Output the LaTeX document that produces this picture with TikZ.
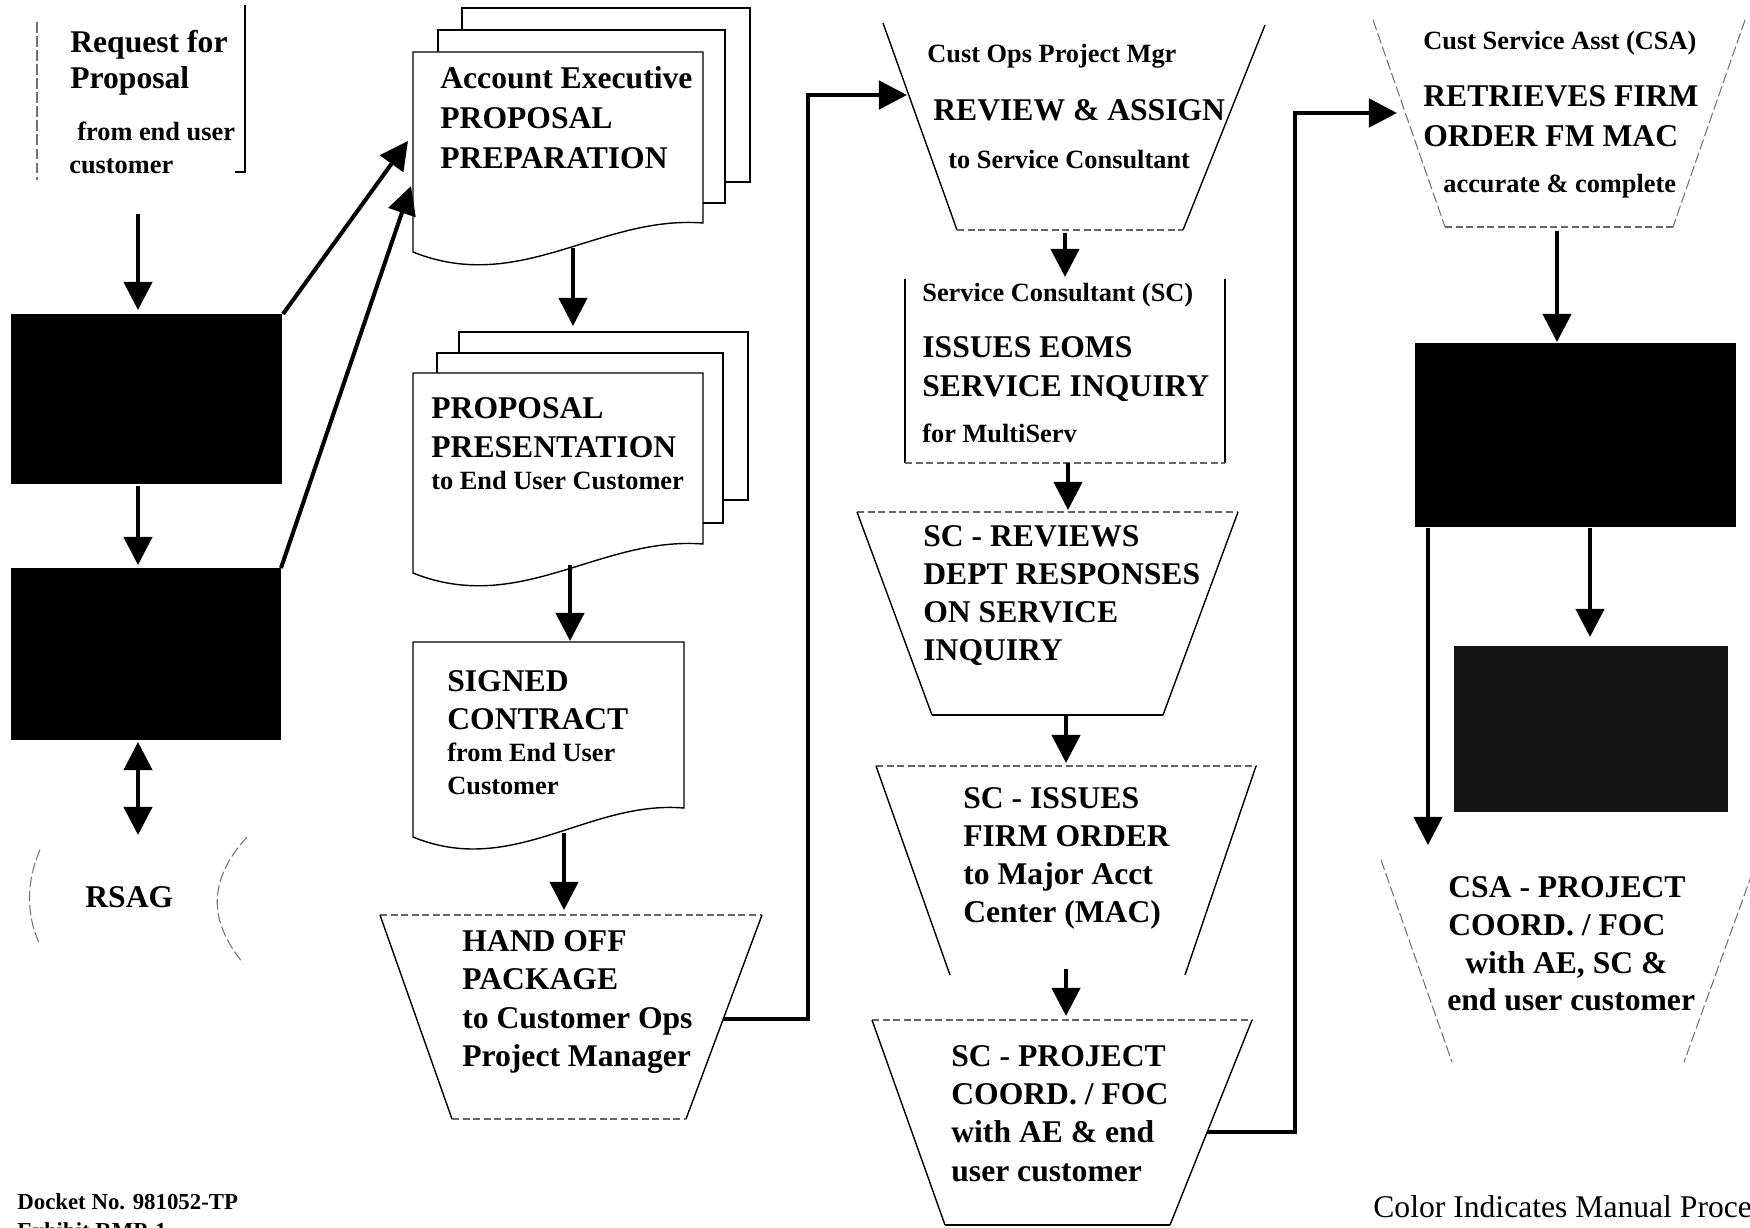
\documentclass[tikz,border=0pt]{standalone}
\usepackage{fontspec}
\setmainfont{Liberation Serif}
\usetikzlibrary{arrows.meta,fit}
\begin{document}
\begin{tikzpicture}[x=0.02cm,y=-0.02cm,
  bt/.style={font=\fontsize{18}{20}\selectfont\bfseries, anchor=base west, inner sep=0pt},
  st/.style={font=\fontsize{15}{17}\selectfont\bfseries, anchor=base west, inner sep=0pt},
  arr/.style={line width=2.3pt, -{Triangle[length=16pt,width=16pt]}},
  arrboth/.style={line width=2.3pt, {Triangle[length=16pt,width=16pt]}-{Triangle[length=16pt,width=16pt]}},
  elbow/.style={line width=2.6pt, line join=miter, -{Triangle[length=16pt,width=16pt]}},
  outl/.style={line width=0.8pt, black},
  faint/.style={line width=0.6pt, black!55, dash pattern=on 6pt off 2pt},
  dotl/.style={line width=0.6pt, black!60, dash pattern=on 4pt off 2pt},
  blk/.style={fill=black, inner sep=0pt, draw=none},
  page/.style={line width=0.8pt, black, fill=white}]
\useasboundingbox (0,0) rectangle (1750,1227);
\fill[white] (0,0) rectangle (1750,1227);
\begin{scope}
\clip (0,0) rectangle (1750,1227);

% ---------- Request for Proposal ----------
\draw[faint] (37,22) -- (37,180);
\draw[outl] (245,5) -- (245,172) -- (235,172);
\node[bt] (rq1) at (70,52) {Request for};
\node[bt] (rq2) at (70,88) {Proposal};
\node[st] (rq3) at (77,140) {from end user};
\node[st] (rq4) at (69,173) {customer};
\coordinate (rq-out) at (138,214);

% ---------- black boxes left ----------
\node[blk, fit={(11,314) (282,484)}] (b1) {};
\node[blk, fit={(11,568) (281,740)}] (b2) {};
\coordinate (b1-in) at (138,310);
\coordinate (b1-out) at (138,486);
\coordinate (b1-ne) at (283,314);
\coordinate (b2-in) at (138,565);
\coordinate (b2-out) at (138,742);
\coordinate (b2-ne) at (281,568);

% ---------- RSAG ----------
\draw[faint] (40,850) .. controls (26,882) and (26,915) .. (40,945);
\draw[faint] (247,837) .. controls (208,880) and (208,920) .. (243,963);
\node[bt] (rsag) at (85,907) {RSAG};
\coordinate (rsag-in) at (138,835);

% ---------- Account Executive stacked document ----------
\draw[page] (462,8) rectangle (750,182);
\draw[page] (438,30) rectangle (725,203);
\draw[page] (413,52) -- (703,52) -- (703,223) .. controls (600,215) and (520,295) .. (413,252) -- cycle;
\node[bt] (ae1) at (440,88) {Account Executive};
\node[bt] (ae2) at (440,128) {PROPOSAL};
\node[bt] (ae3) at (440,168) {PREPARATION};
\coordinate (ae-in1) at (408,141);
\coordinate (ae-in2) at (411,186);
\coordinate (ae-out) at (573,248);

% ---------- Proposal Presentation stacked document ----------
\draw[page] (459,332) rectangle (748,500);
\draw[page] (437,353) rectangle (723,523);
\draw[page] (413,373) -- (703,373) -- (703,544) .. controls (600,536) and (520,616) .. (413,573) -- cycle;
\node[bt] (pp1) at (431,418) {PROPOSAL};
\node[bt] (pp2) at (431,457) {PRESENTATION};
\node[st] (pp3) at (431,489) {to End User Customer};
\coordinate (pp-in) at (573,326);
\coordinate (pp-out) at (570,565);

% ---------- Signed Contract document ----------
\draw[page] (413,642) -- (684,642) -- (684,808) .. controls (588,800) and (513,878) .. (413,837) -- cycle;
\node[bt] (sc1) at (447,691) {SIGNED};
\node[bt] (sc2) at (447,729) {CONTRACT};
\node[st] (sc3) at (447,761) {from End User};
\node[st] (sc4) at (447,794) {Customer};
\coordinate (sc-in) at (570,641);
\coordinate (sc-out) at (564,833);

% ---------- Hand Off Package ----------
\draw[dotl] (380,915) -- (762,915);
\draw[outl] (380,915) -- (452,1119);
\draw[outl] (762,915) -- (686,1119);
\draw[dotl] (452,1119) -- (686,1119);
\node[bt] (ho1) at (462,951) {HAND OFF};
\node[bt] (ho2) at (462,989) {PACKAGE};
\node[bt] (ho3) at (462,1028) {to Customer Ops};
\node[bt] (ho4) at (462,1066) {Project Manager};
\coordinate (ho-in) at (564,910);
\coordinate (ho-out) at (723,1019);

% ---------- Review & Assign ----------
\draw[outl] (883,23) -- (957,230);
\draw[outl] (1265,25) -- (1183,230);
\draw[dotl] (957,230) -- (1183,230);
\node[st] (ra1) at (927,62) {Cust Ops Project Mgr};
\node[bt] (ra2) at (933,120) {REVIEW \& ASSIGN};
\node[st] (ra3) at (948,168) {to Service Consultant};
\coordinate (ra-in) at (907,95);
\coordinate (ra-out) at (1065,233);

% ---------- Service Consultant box ----------
\draw[outl] (905,279) -- (905,463);
\draw[outl] (1225,279) -- (1225,463);
\draw[dotl] (905,463) -- (1225,463);
\node[st] (sb1) at (922,301) {Service Consultant (SC)};
\node[bt] (sb2) at (922,357) {ISSUES EOMS};
\node[bt] (sb3) at (922,396) {SERVICE INQUIRY};
\node[st] (sb4) at (922,442) {for MultiServ};
\coordinate (sb-in) at (1065,277);
\coordinate (sb-out) at (1068,463);

% ---------- SC - Reviews ----------
\draw[dotl] (857,512) -- (1238,512);
\draw[outl] (857,512) -- (932,715);
\draw[outl] (1238,512) -- (1163,715);
\draw[outl] (932,715) -- (1163,715);
\node[bt] (rv1) at (923,546) {SC - REVIEWS};
\node[bt] (rv2) at (923,584) {DEPT RESPONSES};
\node[bt] (rv3) at (923,622) {ON SERVICE};
\node[bt] (rv4) at (923,660) {INQUIRY};
\coordinate (rv-in) at (1068,510);
\coordinate (rv-out) at (1066,715);

% ---------- SC - Issues Firm Order ----------
\draw[dotl] (876,766) -- (1256,766);
\draw[outl] (876,766) -- (950,975);
\draw[outl] (1256,766) -- (1185,975);
\node[bt] (is1) at (963,808) {SC - ISSUES};
\node[bt] (is2) at (963,846) {FIRM ORDER};
\node[bt] (is3) at (963,884) {to Major Acct};
\node[bt] (is4) at (963,922) {Center (MAC)};
\coordinate (is-in) at (1066,763);
\coordinate (is-out) at (1066,969);

% ---------- SC - Project Coord ----------
\draw[dotl] (872,1020) -- (1252,1020);
\draw[outl] (872,1020) -- (945,1225);
\draw[outl] (1252,1020) -- (1170,1225);
\draw[outl] (945,1225) -- (1170,1225);
\node[bt] (pj1) at (951,1066) {SC - PROJECT};
\node[bt] (pj2) at (951,1104) {COORD. / FOC};
\node[bt] (pj3) at (951,1142) {with AE \& end};
\node[bt] (pj4) at (951,1181) {user customer};
\coordinate (pj-in) at (1066,1016);
\coordinate (pj-out) at (1207,1132);

% ---------- Retrieves Firm Order ----------
\draw[faint] (1373,20) -- (1445,227);
\draw[faint] (1745,20) -- (1673,227);
\draw[dotl] (1445,227) -- (1673,227);
\node[st] (rf1) at (1423,49) {Cust Service Asst (CSA)};
\node[bt] (rf2) at (1423,106) {RETRIEVES FIRM};
\node[bt] (rf3) at (1423,146) {ORDER FM MAC};
\node[st] (rf4) at (1443,192) {accurate \& complete};
\coordinate (rf-in) at (1397,113);
\coordinate (rf-out) at (1557,231);

% ---------- right black boxes ----------
\node[blk, fit={(1415,343) (1736,527)}] (b3) {};
\node[fill=black!92, inner sep=0pt, fit={(1454,646) (1728,812)}] (b4) {};
\coordinate (b3-in) at (1557,342);
\coordinate (b3-out1) at (1590,528);
\coordinate (b3-out2) at (1428,528);
\coordinate (b4-in) at (1590,637);

% ---------- CSA - Project Coord ----------
\draw[faint] (1381,860) -- (1452,1062);
\draw[faint] (1757,860) -- (1684,1062);
\node[bt] (cs1) at (1448,897) {CSA - PROJECT};
\node[bt] (cs2) at (1448,935) {COORD. / FOC};
\node[bt] (cs3) at (1465,973) {with AE, SC \&};
\node[bt] (cs4) at (1447,1010) {end user customer};
\coordinate (cs-in) at (1428,845);

% ---------- footer texts ----------
\node[font=\fontsize{13}{15}\selectfont\bfseries, anchor=base west, inner sep=0pt] (dk) at (17,1209) {Docket No. 981052-TP};
\node[font=\fontsize{13}{15}\selectfont\bfseries, anchor=base west, inner sep=0pt] (ex) at (17,1238) {Exhibit RMP-1};
\node[font=\fontsize{18}{20}\selectfont, anchor=base west, inner sep=0pt] (ci) at (1373,1217) {Color Indicates Manual Process};

% ---------- connectors ----------
\draw[arr] (rq-out) -- (b1-in);
\draw[arr] (b1-out) -- (b2-in);
\draw[arrboth] (b2-out) -- (rsag-in);
\draw[arr] (b1-ne) -- (ae-in1);
\draw[arr] (b2-ne) -- (ae-in2);
\draw[arr] (ae-out) -- (pp-in);
\draw[arr] (pp-out) -- (sc-in);
\draw[arr] (sc-out) -- (ho-in);
\draw[elbow] (ho-out) -- (808,1019) -- (808,95) -- (ra-in);
\draw[arr] (ra-out) -- (sb-in);
\draw[arr] (sb-out) -- (rv-in);
\draw[arr] (rv-out) -- (is-in);
\draw[arr] (is-out) -- (pj-in);
\draw[elbow] (pj-out) -- (1295,1132) -- (1295,113) -- (rf-in);
\draw[arr] (rf-out) -- (b3-in);
\draw[arr] (b3-out1) -- (b4-in);
\draw[arr] (b3-out2) -- (cs-in);
\end{scope}
\end{tikzpicture}
\end{document}
